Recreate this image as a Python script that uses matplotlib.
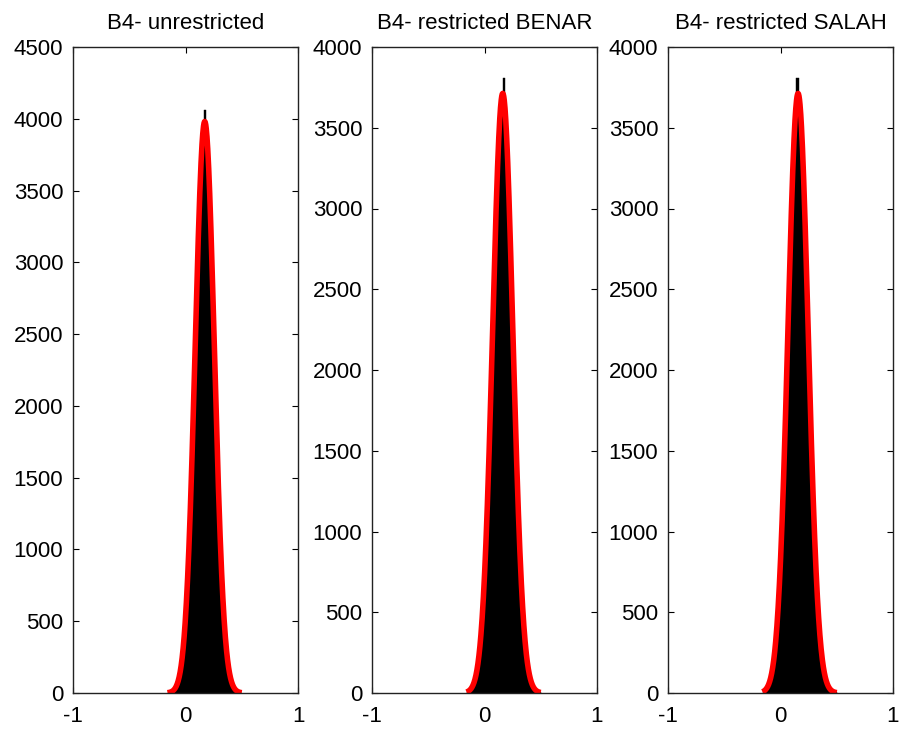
"""
Histograms with fitted normal curves (histfit style), three panels.
"""

import numpy as np
import matplotlib
matplotlib.use("Agg")
import matplotlib.pyplot as plt

plt.rcParams["font.family"] = ["Liberation Sans", "DejaVu Sans"]

# shared bin centres, width 0.02
bin_width = 0.02
bin_centers = [-0.15, -0.13, -0.11, -0.09, -0.07, -0.05, -0.03, -0.01,
               0.01, 0.03, 0.05, 0.07, 0.09, 0.11, 0.13, 0.15, 0.17,
               0.19, 0.21, 0.23, 0.25, 0.27, 0.29, 0.31, 0.33, 0.35,
               0.37, 0.39, 0.41, 0.43, 0.45, 0.47, 0.49]

titles = ["B4- unrestricted", "B4- restricted BENAR", "B4- restricted SALAH"]

counts_unrestricted = [3, 7, 17, 35, 71, 136, 243, 415, 665, 1010, 1460,
                       1975, 2540, 3090, 3520, 3800, 4060, 3820, 3560, 3150,
                       2600, 2030, 1500, 1050, 695, 435, 258, 144, 77, 38,
                       19, 8, 3]
counts_benar = [9, 19, 38, 73, 133, 231, 380, 596, 889, 1262, 1706, 2194,
                2687, 3131, 3474, 3620, 3810, 3500, 3208, 2781, 2294, 1801,
                1346, 957, 648, 417, 256, 150, 83, 44, 22, 11, 5]
counts_salah = [11, 24, 47, 88, 158, 269, 437, 675, 992, 1388, 1849, 2344,
                2828, 3247, 3520, 3810, 3610, 3445, 3091, 2639, 2144, 1659,
                1222, 856, 571, 363, 219, 126, 69, 36, 18, 8, 4]

y_limits = [4500, 4000, 4000]
y_steps = [500, 500, 500]


def normal_fit(centers, counts, width):
    """Fit a normal to the binned data, scaled to the bar heights."""
    c = np.asarray(centers, dtype=float)
    n = np.asarray(counts, dtype=float)
    total = n.sum()
    mu = (c * n).sum() / total
    sd = np.sqrt((n * (c - mu) ** 2).sum() / (total - 1))
    xs = np.linspace(c[0] - width / 2, c[-1] + width / 2, 300)
    ys = total * width * np.exp(-0.5 * ((xs - mu) / sd) ** 2) / (sd * np.sqrt(2 * np.pi))
    return xs, ys


fig = plt.figure(figsize=(9.02, 7.31), dpi=100)
lefts = [73 / 902, 372 / 902, 668 / 902]
ax_w = 225 / 902
ax_b = 38 / 731
ax_h = 646 / 731

all_counts = [counts_unrestricted, counts_benar, counts_salah]
for left, title, counts, ymax, ystep in zip(lefts, titles, all_counts,
                                             y_limits, y_steps):
    ax = fig.add_axes([left, ax_b, ax_w, ax_h])
    ax.bar(bin_centers, counts, width=bin_width, color="black",
           edgecolor="black", linewidth=0.3, zorder=2)
    xs, ys = normal_fit(bin_centers, counts, bin_width)
    ax.plot(xs, ys, color="#ff0000", linewidth=4, zorder=3,
            solid_capstyle="butt")
    ax.set_xlim(-1, 1)
    ax.set_ylim(0, ymax)
    ax.set_xticks([-1, 0, 1])
    ax.set_xticklabels(["-1", "0", "1"])
    ax.set_yticks(np.arange(0, ymax + 1, ystep))
    ax.tick_params(direction="in", top=True, right=True, length=4,
                   width=0.8, labelsize=16, colors="black")
    ax.tick_params(axis="y", pad=7)
    ax.tick_params(axis="x", pad=9)
    for sp in ax.spines.values():
        sp.set_linewidth(1.0)
        sp.set_color("#222222")
        sp.set_zorder(4)
    ax.set_title(title, fontsize=16, pad=13)

fig.savefig("out.png", dpi=100)
plt.close(fig)
